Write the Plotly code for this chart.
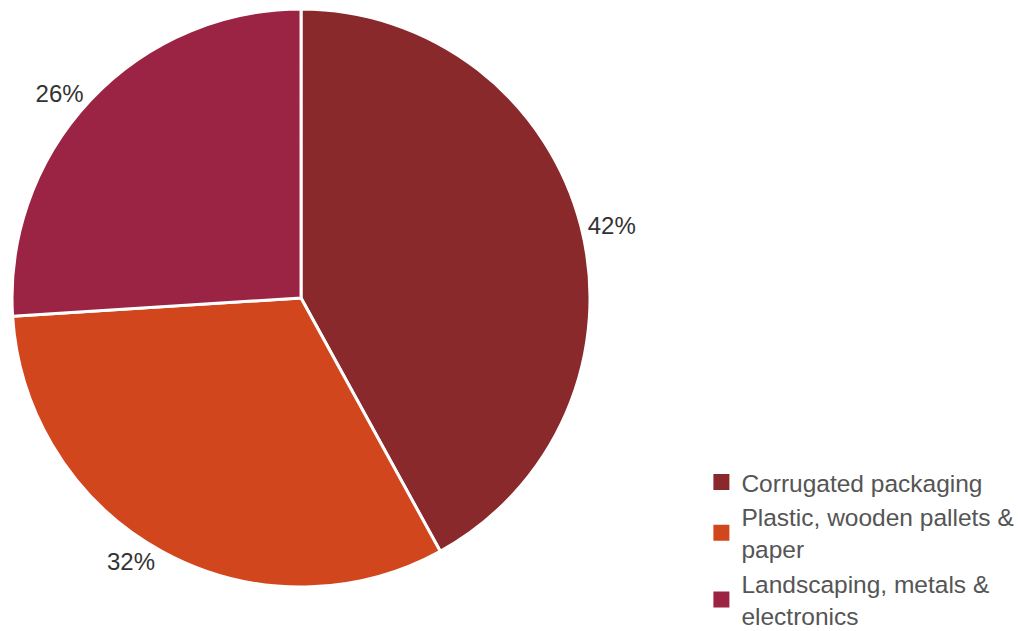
import plotly.graph_objects as go

# Waste stream shares
categories = ["Corrugated packaging", "Plastic, wooden pallets &<br>paper", "Landscaping, metals &<br>electronics"]
shares = [42, 32, 26]
colors = ["#8a292b", "#d2461e", "#9b2343"]

FONT = "Liberation Sans, Arial, sans-serif"

fig = go.Figure()

fig.add_trace(
    go.Pie(
        labels=categories,
        values=shares,
        sort=False,
        direction="clockwise",
        rotation=0,
        marker=dict(colors=colors, line=dict(color="white", width=3)),
        textinfo="percent",
        texttemplate="%{percent:.0%}",
        textposition="outside",
        outsidetextfont=dict(family=FONT, size=24, color="#333333"),
        domain=dict(x=[0.0118, 0.5796], y=[0.0697, 0.9857]),
        hoverinfo="label+percent",
        showlegend=False,
    )
)

# Legend entries with larger square swatches
for name, color in zip(categories, colors):
    fig.add_trace(
        go.Scatter(
            x=[None],
            y=[None],
            mode="markers",
            name=name,
            marker=dict(symbol="square", size=16, color=color),
            hoverinfo="skip",
        )
    )

fig.update_layout(
    width=1018,
    height=631,
    margin=dict(l=0, r=0, t=0, b=0, autoexpand=False),
    paper_bgcolor="white",
    plot_bgcolor="white",
    font=dict(family=FONT, size=24.5, color="#555555"),
    xaxis=dict(visible=False),
    yaxis=dict(visible=False),
    legend=dict(
        x=0.689,
        y=-0.012,
        xanchor="left",
        yanchor="bottom",
        font=dict(size=24.5, color="#555555"),
        itemwidth=30,
    ),
)

fig.write_html("out.html")
